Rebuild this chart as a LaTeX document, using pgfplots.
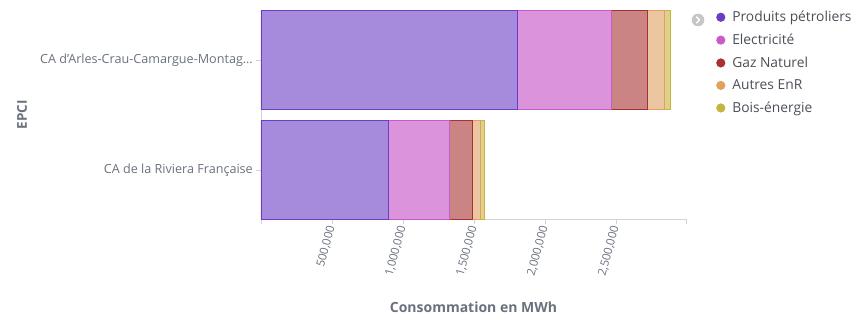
\documentclass[border=0pt]{standalone}
\usepackage{fontspec}
\setmainfont{Open Sans}
\usepackage{pgfplots}
\pgfplotsset{compat=1.18}
\definecolor{cPP}{HTML}{6A3DC4}
\definecolor{cEL}{HTML}{C85BC8}
\definecolor{cGN}{HTML}{A83232}
\definecolor{cAE}{HTML}{E0A060}
\definecolor{cBE}{HTML}{C8B43C}
\definecolor{txt}{HTML}{6A717D}
\definecolor{axl}{HTML}{D3D3D3}
\pgfplotsset{dotlegend/.style={legend image code/.code={\fill[#1, draw=none] (0pt,0pt) circle (4.6pt); \path[draw=none, fill=none] (-4.6pt,-1pt) rectangle (10.5pt,1pt);}}}
\begin{document}
\begin{tikzpicture}
\begin{axis}[
  at={(0,0)}, anchor=south west, name=ax,
  scale only axis, width=425pt, height=209pt,
  xbar stacked, bar width=99pt,
  xmin=0, xmax=2993000, ymin=-0.445, ymax=1.455,
  axis x line*=bottom, axis y line*=left,
  axis line style={axl, line width=0.8pt},
  every tick/.style={axl, line width=0.8pt},
  tick align=outside, major tick length=5pt,
  scaled x ticks=false,
  xtick={0,500000,1000000,1500000,2000000,2500000,2993000},
  xticklabels={{},{500,000},{1,000,000},{1,500,000},{2,000,000},{2,500,000},{}},
  xticklabel style={rotate=75, anchor=east, font=\fontsize{11.5}{13}\selectfont, text=txt, inner sep=2pt},
  ytick={0,1},
  yticklabels={{CA de la Riviera Française},{CA d{\char"0027}Arles-Crau-Camargue-Montag…}},
  yticklabel style={font=\fontsize{12.6}{14}\selectfont, text=txt, inner sep=3pt},
  xlabel={\textbf{Consommation en MWh}},
  xlabel style={font=\fontsize{14}{16}\selectfont, text=txt, at={(axis description cs:0.5,0)}, anchor=center, yshift=-88pt},
  ylabel={\textbf{EPCI}},
  ylabel style={font=\fontsize{13.5}{15}\selectfont, text=txt, at={(axis description cs:-0.5624,0.5)}, anchor=center},
  legend style={at={(1,1)}, anchor=north west, xshift=30pt, yshift=0pt, draw=none, fill=none,
    font=\fontsize{13.8}{16}\selectfont, text=txt!70!black, row sep=8.8pt, inner sep=0pt,
    nodes={inner sep=1pt, anchor=west}},
  legend cell align=left,
  clip=false,
]
\addplot[draw=cPP, fill=cPP!60!white, line width=0.8pt, dotlegend=cPP]
  coordinates {(900000,0) (1806000,1)};
\addplot[draw=cEL, fill=cEL!65!white, line width=0.8pt, dotlegend=cEL]
  coordinates {(425000,0) (665000,1)};
\addplot[draw=cGN, fill=cGN!60!white, line width=0.8pt, dotlegend=cGN]
  coordinates {(162000,0) (247000,1)};
\addplot[draw=cAE, fill=cAE!60!white, line width=0.8pt, dotlegend=cAE]
  coordinates {(56000,0) (125000,1)};
\addplot[draw=cBE, fill=cBE!60!white, line width=0.8pt, dotlegend=cBE]
  coordinates {(31000,0) (40000,1)};
\legend{Produits pétroliers, Electricité, Gaz Naturel, Autres EnR, Bois-énergie}
\end{axis}
\begin{scope}[xshift=-261pt, yshift=219pt, x=1pt, y=-1pt]
  \fill[gray!45] (698,20) circle (6.3);
  \draw[white, line width=1.4pt, line cap=round, line join=round] (696.5,17) -- (699.5,20) -- (696.5,23);
  \pgfresetboundingbox
  \useasboundingbox (0,0) rectangle (858,315);
\end{scope}
\end{tikzpicture}
\end{document}
